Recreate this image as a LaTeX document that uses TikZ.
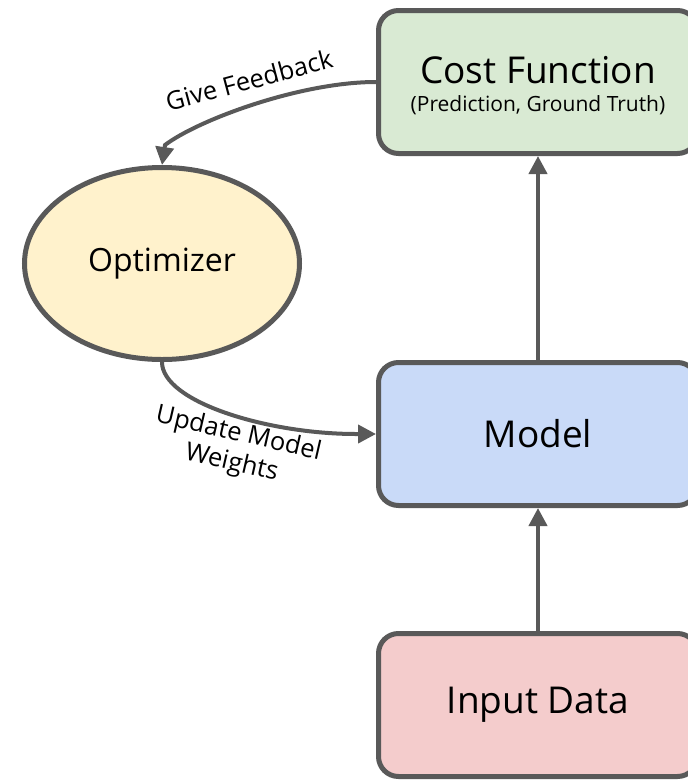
\documentclass[tikz,border=0pt]{standalone}
\usepackage{fontspec}
\setmainfont{Open Sans}
\usetikzlibrary{arrows.meta,shapes.geometric}
\definecolor{edge}{HTML}{595959}
\definecolor{costfill}{HTML}{D9EAD3}
\definecolor{modelfill}{HTML}{C9DAF8}
\definecolor{inputfill}{HTML}{F4CCCC}
\definecolor{optfill}{HTML}{FFF2CC}
\tikzset{
  stagebox/.style={draw=edge, line width=5pt, rounded corners=20pt,
    minimum width=319pt, minimum height=143pt, inner sep=0pt, align=center},
  flow/.style={draw=edge, line width=4pt,
    -{Triangle[length=18pt,width=18pt]}},
  edgelabel/.style={font=\fontsize{25.5}{30}\selectfont, align=center},
}
\begin{document}
\begin{tikzpicture}[x=1pt,y=-1pt]
  \useasboundingbox (0,0) rectangle (688,780);
  \clip (0,0) rectangle (688,780);

  \node[stagebox, fill=costfill] (cost) at (538,82) {};
  \node[font=\fontsize{37}{40}\selectfont] (costtitle) at (538,70) {Cost Function};
  \node[font=\fontsize{21}{24}\selectfont] (costsub) at (538,105) {(Prediction, Ground Truth)};

  \node[stagebox, fill=modelfill, font=\fontsize{37}{40}\selectfont] (model) at (538,434) {Model};
  \node[stagebox, fill=inputfill, font=\fontsize{37}{40}\selectfont] (input) at (538,705) {Input Data};

  \node[ellipse, draw=edge, line width=5pt, fill=optfill, minimum width=275pt,
    minimum height=192pt, inner sep=0pt, font=\fontsize{32}{36}\selectfont] (opt) at (162,263.5) {Optimizer};

  % points where the curved connectors meet their straight arrow ends
  \coordinate (fbjoin) at ([shift={(3,-20)}]opt.north);
  \coordinate (updjoin) at ([shift={(-20,0)}]model.west);

  \draw[flow] (input.north) -- (model.south);
  \draw[flow] (model.north) -- (cost.south);
  \draw[flow] (cost.west) .. controls +(-76,0) and +(33,-25) .. (fbjoin) -- (opt.north);
  \draw[flow] (opt.south) .. controls +(0,40) and +(-88,0) .. (updjoin) -- (model.west);

  \node[edgelabel, rotate=15] (fb) at (249,80) {Give Feedback};
  \node[edgelabel, rotate=-13] (upd) at (235,449) {Update Model\\Weights};
\end{tikzpicture}
\end{document}
